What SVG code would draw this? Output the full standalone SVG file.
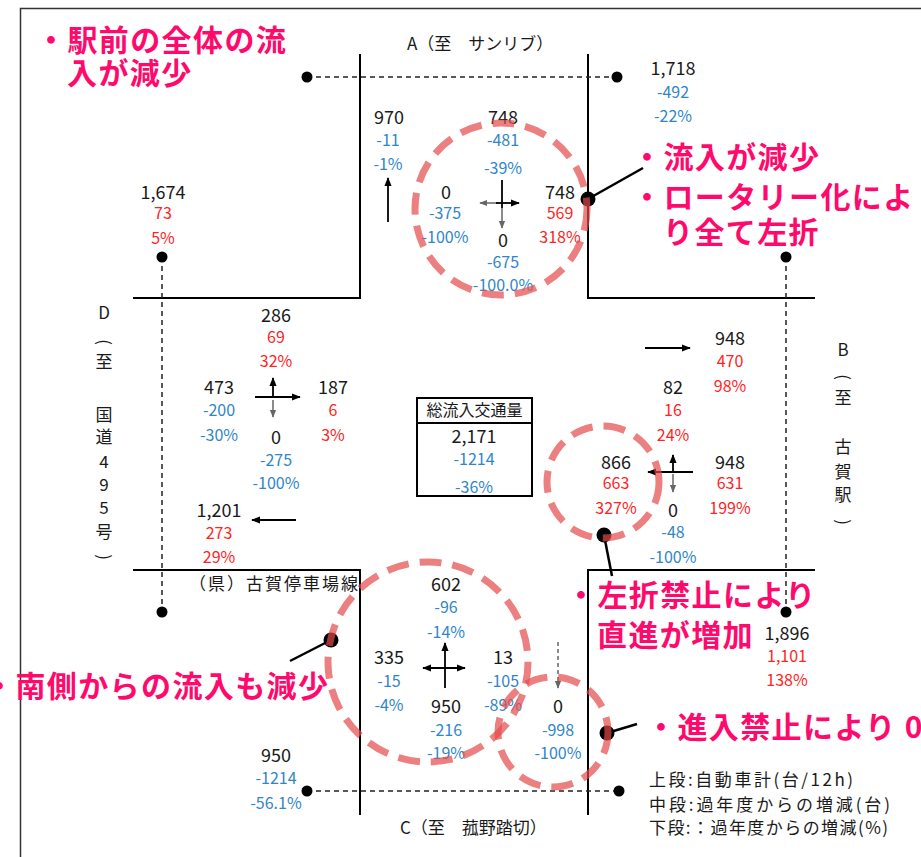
<svg xmlns="http://www.w3.org/2000/svg" width="921" height="857" viewBox="0 0 921 857">
<style>
text{font-family:"Noto Sans CJK JP","Noto Sans",sans-serif;text-anchor:middle}
.k{fill:#1a1a1a;font-size:18px}
.b{fill:#2F86C8;font-size:16px}
.r{fill:#FF2424;font-size:16px}
.lbl{fill:#1a1a1a;font-size:17px}
.note{fill:#FF0A6C;font-size:30px;font-weight:bold;letter-spacing:1.4px;text-anchor:start}
.leg{fill:#1a1a1a;font-size:17px;text-anchor:start}
.road{stroke:#000;stroke-width:2;fill:none}
.frame{stroke:#333;stroke-width:1.5;fill:none}
.dash{stroke:#222;stroke-width:1.5;stroke-dasharray:5 4;fill:none}
.ring{fill:none;stroke:#E44A4A;stroke-opacity:0.7;stroke-width:7;stroke-dasharray:22 11}
.ar{stroke:#000;stroke-width:1.8;fill:none;marker-end:url(#ah)}
.ag{stroke:#666;stroke-width:1.5;fill:none;marker-end:url(#ag)}
.lead{stroke:#000;stroke-width:2.5;fill:none}
</style>
<defs>
<marker id="ah" viewBox="0 0 10 10" refX="9" refY="5" markerWidth="9" markerHeight="9" markerUnits="userSpaceOnUse" orient="auto-start-reverse"><path d="M0,1 L10,5 L0,9 z" fill="#000"/></marker>
<marker id="ag" viewBox="0 0 10 10" refX="9" refY="5" markerWidth="8" markerHeight="8" markerUnits="userSpaceOnUse" orient="auto"><path d="M0,1 L10,5 L0,9 z" fill="#666"/></marker>
</defs>
<rect width="921" height="857" fill="#fff"/>
<g id="frame">
<path class="frame" d="M20.5,857 V8.5 H921"/>
</g>
<g id="roads">
<path class="road" d="M360,54 V298 H133"/>
<path class="road" d="M588,54 V298 H815"/>
<path class="road" d="M133,570 H360 V815"/>
<path class="road" d="M815,570 H588 V815"/>
</g>
<g id="connectors">
<path class="dash" d="M307,77 H617"/>
<path class="dash" d="M162,257 V612"/>
<path class="dash" d="M786,257 V612"/>
<path class="dash" d="M307,791 H619"/>
<circle cx="307" cy="77" r="5.5"/><circle cx="617" cy="77" r="5.5"/>
<circle cx="162" cy="257" r="5.5"/><circle cx="162" cy="612" r="5.5"/>
<circle cx="786" cy="257" r="5.5"/><circle cx="786" cy="612" r="5.5"/>
<circle cx="307" cy="791" r="5.5"/><circle cx="619" cy="791" r="5.5"/>
<path class="lead" d="M588,199 L643,168"/><circle cx="588" cy="199" r="7.5"/>
<path class="lead" d="M331,640 L290,661"/><circle cx="331" cy="640" r="7.5"/>
<path class="lead" d="M604,535 L612,576"/><circle cx="604" cy="535" r="7.5"/>
<path class="lead" d="M607,733 L637,724"/><circle cx="607" cy="733" r="7.5"/>
</g>
<g id="label-A"><text class="lbl" x="407" y="50" style="text-anchor:start">A（至　サンリブ）</text></g>
<g id="label-C"><text class="lbl" x="400" y="834" style="text-anchor:start">C（至　菰野踏切）</text></g>
<g id="label-D">
<text class="lbl" x="104" y="319">D</text>
<text class="lbl" x="104" y="348" transform="rotate(90 104 342)">(</text>
<text class="lbl" x="104" y="368">至</text>
<text class="lbl" x="104" y="421">国</text>
<text class="lbl" x="104" y="443">道</text>
<text class="lbl" x="104" y="468">4</text>
<text class="lbl" x="104" y="491">9</text>
<text class="lbl" x="104" y="514">5</text>
<text class="lbl" x="104" y="538">号</text>
<text class="lbl" x="104" y="563" transform="rotate(90 104 557)">)</text>
</g>
<g id="label-B">
<text class="lbl" x="843" y="356">B</text>
<text class="lbl" x="843" y="383" transform="rotate(90 843 377)">(</text>
<text class="lbl" x="843" y="404">至</text>
<text class="lbl" x="843" y="453">古</text>
<text class="lbl" x="843" y="478">賀</text>
<text class="lbl" x="843" y="501">駅</text>
<text class="lbl" x="843" y="528" transform="rotate(90 843 522)">)</text>
</g>
<g id="label-road"><text class="lbl" x="360" y="590" style="text-anchor:end;letter-spacing:2px">（県）古賀停車場線</text></g>
<g id="node-A-in">
<text class="k" x="389" y="123.5">970</text><text class="b" x="388" y="145.5">-11</text><text class="b" x="388" y="169.5">-1%</text>
<path class="ar" d="M388,222 V178"/>
</g>
<g id="node-A-out">
<text class="k" x="673" y="74.5">1,718</text><text class="b" x="673" y="97.5">-492</text><text class="b" x="673" y="121.5">-22%</text>
</g>
<g id="node-north">
<text class="k" x="503" y="123.5">748</text><text class="b" x="503" y="145.5">-481</text><text class="b" x="503" y="173.5">-39%</text>
<text class="k" x="446" y="198.5">0</text><text class="b" x="445" y="218.5">-375</text><text class="b" x="445" y="242.5">-100%</text>
<text class="k" x="560" y="198.5">748</text><text class="r" x="560" y="218.5">569</text><text class="r" x="560" y="242.5">318%</text>
<text class="k" x="503" y="246.5">0</text><text class="b" x="503" y="267.5">-675</text><text class="b" x="503" y="290.5">-100.0%</text>
<path d="M502,180 V208" stroke="#000" stroke-width="1.8"/>
<path class="ag" d="M502,208 V228"/>
<path class="ag" d="M498,203 H480"/>
<path class="ar" d="M496,203 H519"/>
</g>
<g id="node-D-in">
<text class="k" x="163" y="198.5">1,674</text><text class="r" x="163" y="218.5">73</text><text class="r" x="163" y="243.5">5%</text>
</g>
<g id="node-west">
<text class="k" x="276" y="321.5">286</text><text class="r" x="276" y="342.5">69</text><text class="r" x="276" y="366.5">32%</text>
<text class="k" x="219" y="393.5">473</text><text class="b" x="219" y="415.5">-200</text><text class="b" x="219" y="440.5">-30%</text>
<text class="k" x="333" y="393.5">187</text><text class="r" x="333" y="415.5">6</text><text class="r" x="333" y="440.5">3%</text>
<text class="k" x="276" y="443.5">0</text><text class="b" x="276" y="465.5">-275</text><text class="b" x="276" y="488.5">-100%</text>
<path class="ar" d="M273,398 V378"/>
<path class="ar" d="M255,397 H300"/>
<path class="ag" d="M273,400 V417"/>
</g>
<g id="node-D-out">
<text class="k" x="219" y="516.5">1,201</text><text class="r" x="219" y="538.5">273</text><text class="r" x="219" y="562.5">29%</text>
<path class="ar" d="M296,520 H252"/>
</g>
<g id="node-B-out">
<text class="k" x="730" y="344.5">948</text><text class="r" x="730" y="366.5">470</text><text class="r" x="730" y="391.5">98%</text>
<path class="ar" d="M645,348 H690"/>
</g>
<g id="node-east">
<text class="k" x="673" y="393.5">82</text><text class="r" x="673" y="415.5">16</text><text class="r" x="673" y="440.5">24%</text>
<text class="k" x="616" y="468.5">866</text><text class="r" x="616" y="488.5">663</text><text class="r" x="616" y="513.5">327%</text>
<text class="k" x="730" y="468.5">948</text><text class="r" x="730" y="488.5">631</text><text class="r" x="730" y="513.5">199%</text>
<text class="k" x="673" y="516.5">0</text><text class="b" x="673" y="537.5">-48</text><text class="b" x="673" y="562.5">-100%</text>
<path class="ar" d="M693,472 H648"/>
<path class="ar" d="M673,472 V455"/>
<path class="ag" d="M673,474 V492"/>
</g>
<g id="node-total">
<rect x="417" y="398" width="115" height="98" fill="none" stroke="#000" stroke-width="2"/>
<line x1="417" y1="423" x2="532" y2="423" stroke="#000" stroke-width="2"/>
<text class="lbl" x="474.5" y="416" style="font-size:16px">総流入交通量</text>
<text class="k" x="474" y="442.5">2,171</text><text class="b" x="474" y="464.5">-1214</text><text class="b" x="474" y="492.5">-36%</text>
</g>
<g id="node-south">
<text class="k" x="446" y="590.5">602</text><text class="b" x="446" y="612.5">-96</text><text class="b" x="446" y="637.5">-14%</text>
<text class="k" x="389" y="663.5">335</text><text class="b" x="389" y="686.5">-15</text><text class="b" x="389" y="710.5">-4%</text>
<text class="k" x="503" y="663.5">13</text><text class="b" x="503" y="686.5">-105</text><text class="b" x="503" y="710.5">-89%</text>
<text class="k" x="446" y="712.5">950</text><text class="b" x="446" y="735.5">-216</text><text class="b" x="446" y="758.5">-19%</text>
<path class="ar" d="M445,688 V643"/>
<path class="ar" d="M423,668 H465" marker-start="url(#ah)"/>
</g>
<g id="node-C-in">
<text class="k" x="558" y="712.5">0</text><text class="b" x="558" y="735.5">-998</text><text class="b" x="558" y="758.5">-100%</text>
<path class="ag" d="M558,642 V688" stroke-dasharray="4 3"/>
</g>
<g id="node-C-out">
<text class="k" x="276" y="761.5">950</text><text class="b" x="276" y="783.5">-1214</text><text class="b" x="276" y="808.5">-56.1%</text>
</g>
<g id="node-B-in">
<text class="k" x="787" y="639.5">1,896</text><text class="r" x="787" y="661.5">1,101</text><text class="r" x="787" y="685.5">138%</text>
</g>
<g id="rings">
<circle class="ring" cx="501" cy="209" r="86"/>
<circle class="ring" cx="603" cy="482" r="56"/>
<circle class="ring" cx="428" cy="662" r="100"/>
<circle class="ring" cx="553" cy="732" r="55"/>
</g>
<g id="notes">
<text class="note" x="36" y="51">・駅前の全体の流</text>
<text class="note" x="67" y="84">入が減少</text>
<text class="note" x="632" y="168">・流入が減少</text>
<text class="note" x="632" y="208">・ロータリー化によ</text>
<text class="note" x="663" y="243">り全て左折</text>
<text class="note" x="-16" y="697">・南側からの流入も減少</text>
<text class="note" x="566" y="606">・左折禁止により</text>
<text class="note" x="597" y="646">直進が増加</text>
<text class="note" x="646" y="738">・進入禁止により 0</text>
</g>
<g id="legend">
<text class="leg" x="649" y="786" textLength="204" lengthAdjust="spacing">上段:自動車計(台/12h)</text>
<text class="leg" x="649" y="811" textLength="241" lengthAdjust="spacing">中段:過年度からの増減(台)</text>
<text class="leg" x="649" y="834" textLength="239" lengthAdjust="spacing">下段:：過年度からの増減(%)</text>
</g>
</svg>
